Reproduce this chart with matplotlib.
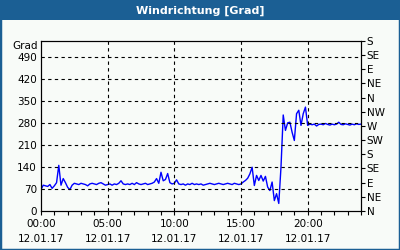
import matplotlib
matplotlib.use("Agg")
import matplotlib.pyplot as plt
import numpy as np

# Wind direction [deg], 10-minute steps from 00:00 to 24:00
wind_deg = [
    68, 82, 80, 78, 84, 72,      # 0h
    80, 90, 145, 82, 103, 90,    # 1h
    75, 68, 82, 88, 86, 84,      # 2h
    88, 86, 84, 80, 86, 88,      # 3h
    86, 84, 88, 90, 86, 82,      # 4h
    84, 86, 82, 86, 84, 88,      # 5h
    96, 86, 84, 86, 84, 88,      # 6h
    84, 90, 86, 84, 86, 88,      # 7h
    84, 86, 88, 92, 103, 88,     # 8h
    123, 96, 100, 119, 90, 86,   # 9h
    88, 99, 86, 84, 86, 82,      # 10h
    86, 84, 88, 84, 86, 84,      # 11h
    86, 82, 84, 86, 88, 86,      # 12h
    84, 86, 88, 86, 84, 86,      # 13h
    88, 86, 84, 88, 86, 84,      # 14h
    86, 92, 97, 104, 118, 139,   # 15h
    81, 113, 97, 113, 95, 110,   # 16h
    76, 65, 92, 33, 55, 24,      # 17h
    140, 305, 256, 280, 282, 250,  # 18h
    224, 309, 320, 272, 309, 330,  # 19h
    272, 276, 274, 276, 270, 275,  # 20h
    276, 274, 278, 275, 273, 276,  # 21h
    274, 276, 282, 275, 274, 277,  # 22h
    275, 273, 276, 274, 277, 275,  # 23h
    276,
]
hours = np.arange(len(wind_deg)) / 6.0

y_ticks = [0, 70, 140, 210, 280, 350, 420, 490]
x_ticks = [0, 5, 10, 15, 20]
x_labels = ["00:00\n12.01.17", "05:00\n12.01.17", "10:00\n12.01.17",
            "15:00\n12.01.17", "20:00\n12.01.17"]
compass_vals = [0, 45, 90, 135, 180, 225, 270, 315, 360, 405, 450, 495, 540]
compass_labels = ["N", "NE", "E", "SE", "S", "SW", "W", "NW", "N", "NE", "E", "SE", "S"]

title_blue = "#1b5f94"
bg = "#f8fbf8"
fs = 7.5

fig = plt.figure(figsize=(4, 2.5), dpi=100, facecolor=bg)
# border and title bar
fig.patches.append(plt.Rectangle((0, 0), 1, 1, transform=fig.transFigure,
                                 fill=False, edgecolor=title_blue, linewidth=2.5))
fig.patches.append(plt.Rectangle((0, 1 - 20 / 250), 1, 20 / 250, transform=fig.transFigure,
                                 facecolor=title_blue, edgecolor="none"))
fig.text(0.5, 1 - 10.5 / 250, "Windrichtung [Grad]", ha="center", va="center",
         color="white", fontsize=8, fontweight="bold")

ax = fig.add_axes([41 / 400, (250 - 211) / 250, 320 / 400, 170 / 250])
ax.set_facecolor(bg)
ax.plot(hours, wind_deg, color="#0000ff", linewidth=1.0)
ax.set_xlim(0, 24)
ax.set_ylim(0, 540)

ax.set_yticks(y_ticks)
ax.set_yticklabels([str(v) for v in y_ticks], fontsize=fs)
ax.set_xticks(x_ticks)
ax.set_xticklabels(x_labels, fontsize=fs, linespacing=1.6)
ax.set_xticks(np.arange(0, 25, 1), minor=True)
ax.tick_params(axis="y", length=0, pad=3)
ax.tick_params(axis="x", which="both", length=3, width=0.8, direction="out", pad=3)

for v in y_ticks[1:]:
    ax.axhline(v, color="black", linestyle=(0, (3, 3)), linewidth=0.8)
for v in x_ticks[1:]:
    ax.axvline(v, color="black", linestyle=(0, (3, 3)), linewidth=0.8)

for s in ax.spines.values():
    s.set_color("black")
    s.set_linewidth(0.8)

ax2 = ax.twinx()
ax2.set_ylim(0, 540)
ax2.set_yticks(compass_vals)
ax2.set_yticklabels(compass_labels, fontsize=fs)
ax2.tick_params(axis="y", length=3, width=0.8, pad=1)

ax.text(-0.01, 1.0, "Grad", transform=ax.transAxes, ha="right", va="top", fontsize=fs)

fig.savefig("out.png", dpi=100, facecolor=bg)
